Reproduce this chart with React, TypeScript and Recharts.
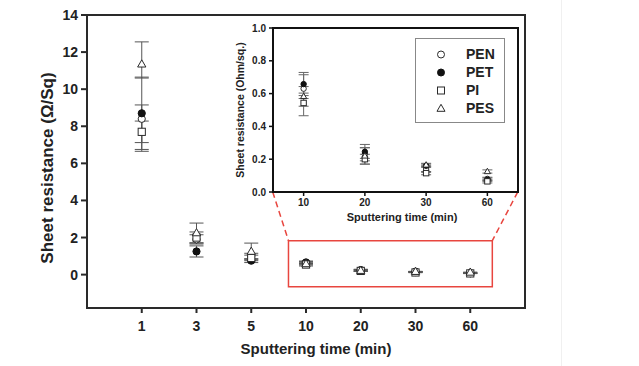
import React from 'react';
import {
  ScatterChart,
  Scatter,
  XAxis,
  YAxis,
  ErrorBar,
  ReferenceArea,
  ReferenceLine,
  Label,
  Legend,
} from 'recharts';

const mainCategories = ['1', '3', '5', '10', '20', '30', '60'];
const insetCategories = ['10', '20', '30', '60'];

const penValues = [8.4, 1.9, 1.0, 0.63, 0.23, 0.14, 0.08];
const petValues = [8.7, 1.25, 0.75, 0.658, 0.245, 0.16, 0.075];
const piValues = [7.7, 2.0, 0.9, 0.543, 0.2, 0.115, 0.065];
const pesValues = [11.35, 2.25, 1.25, 0.583, 0.22, 0.165, 0.125];

// lower / upper error extents
const penErrLow = [1.75, 0.25, 0.15, 0.06, 0.04, 0.02, 0.01];
const penErrHigh = [0.75, 0.25, 0.15, 0.085, 0.04, 0.02, 0.01];
const petErrLow = [1.95, 0.3, 0.1, 0.07, 0.04, 0.01, 0.01];
const petErrHigh = [1.95, 0.3, 0.1, 0.071, 0.045, 0.01, 0.01];
const piErrLow = [0.58, 0.3, 0.15, 0.078, 0.03, 0.01, 0.01];
const piErrHigh = [0.58, 0.3, 0.15, 0.06, 0.03, 0.01, 0.01];
const pesErrLow = [0.75, 0.53, 0.45, 0.06, 0.05, 0.01, 0.01];
const pesErrHigh = [1.2, 0.53, 0.45, 0.06, 0.05, 0.01, 0.01];

const mainYTicks = [0, 2, 4, 6, 8, 10, 12, 14];
const insetYTicks = [0, 0.2, 0.4, 0.6, 0.8, 1.0];

const FONT = '"Liberation Sans", Arial, Helvetica, sans-serif';
const INK = '#2a2a2a';
const RED = '#e8463f';

type Kind = 'circle' | 'filled' | 'square' | 'triangle';

const series: { name: string; kind: Kind; values: number[]; low: number[]; high: number[] }[] = [
  { name: 'PEN', kind: 'circle', values: penValues, low: penErrLow, high: penErrHigh },
  { name: 'PET', kind: 'filled', values: petValues, low: petErrLow, high: petErrHigh },
  { name: 'PI', kind: 'square', values: piValues, low: piErrLow, high: piErrHigh },
  { name: 'PES', kind: 'triangle', values: pesValues, low: pesErrLow, high: pesErrHigh },
];

const buildMain = (values: number[], low: number[], high: number[]) =>
  values.map((y, i) => ({ x: i + 1, y, err: [low[i], high[i]] }));
const buildInset = (values: number[], low: number[], high: number[]) =>
  values.slice(3).map((y, i) => ({ x: i + 1, y, err: [low[i + 3], high[i + 3]] }));

const drawSymbol = (kind: Kind, cx: number, cy: number, r: number) => {
  switch (kind) {
    case 'circle':
      return <circle cx={cx} cy={cy} r={r} fill="#fff" stroke={INK} strokeWidth={1} />;
    case 'filled':
      return <circle cx={cx} cy={cy} r={r} fill="#111" stroke="#111" strokeWidth={1} />;
    case 'square':
      return (
        <rect x={cx - r} y={cy - r} width={2 * r} height={2 * r} fill="#fff" stroke={INK} strokeWidth={1} />
      );
    default:
      return (
        <polygon
          points={`${cx},${cy - r * 1.2} ${cx - r * 1.15},${cy + r * 0.8} ${cx + r * 1.15},${cy + r * 0.8}`}
          fill="#fff"
          stroke={INK}
          strokeWidth={1}
        />
      );
  }
};

const makeShape = (kind: Kind, r: number) => (props: any) => {
  const { cx, cy } = props;
  if (cx == null || cy == null) return <g />;
  return drawSymbol(kind, cx, cy, r);
};

const tickStyle = (size: number) => ({
  fill: '#222',
  fontSize: size,
  fontWeight: 'bold' as const,
  fontFamily: FONT,
});

const renderLegend = () => (
  <div
    style={{
      boxSizing: 'border-box',
      width: 90,
      height: 85,
      border: '1px solid #888',
      background: '#fff',
      paddingTop: 6,
      fontFamily: FONT,
    }}
  >
    {series.map((s) => (
      <div key={s.name} style={{ position: 'relative', height: 18 }}>
        <svg width={12} height={12} style={{ position: 'absolute', left: 19, top: 3 }}>
          {drawSymbol(s.kind, 6, 6.5, 3.5)}
        </svg>
        <span
          style={{
            position: 'absolute',
            left: 50,
            top: 0,
            fontSize: 14,
            fontWeight: 'bold',
            color: '#222',
            lineHeight: '18px',
          }}
        >
          {s.name}
        </span>
      </div>
    ))}
  </div>
);

export default function App() {
  return (
    <div style={{ position: 'absolute', left: 0, top: 0, width: 639, height: 366, background: '#fff' }}>
      <div style={{ position: 'absolute', left: 561, top: 0, width: 1, height: 366, background: '#f0f0f0' }} />
      <div style={{ position: 'absolute', left: 0, top: 0 }}>
        <ScatterChart width={639} height={366} margin={{ top: 15, right: 114, bottom: 0, left: 0 }}>
          <XAxis
            type="number"
            dataKey="x"
            domain={[0, 8]}
            ticks={[1, 2, 3, 4, 5, 6, 7]}
            tickFormatter={(v: number) => mainCategories[v - 1] ?? ''}
            interval={0}
            allowDataOverflow
            height={58}
            axisLine={{ stroke: INK, strokeWidth: 2 }}
            tickLine={{ stroke: INK, strokeWidth: 2 }}
            tickSize={5}
            tickMargin={8}
            tick={tickStyle(14)}
          >
            <Label
              content={() => (
                <text
                  x={316}
                  y={348}
                  textAnchor="middle"
                  dominantBaseline="central"
                  fontFamily={FONT}
                  fontWeight="bold"
                  fontSize={15}
                  fill="#222"
                >
                  Sputtering time (min)
                </text>
              )}
            />
          </XAxis>
          <YAxis
            type="number"
            dataKey="y"
            domain={[-1.8, 14]}
            ticks={mainYTicks}
            interval={0}
            allowDataOverflow
            width={87}
            axisLine={{ stroke: INK, strokeWidth: 2 }}
            tickLine={{ stroke: INK, strokeWidth: 2 }}
            tickSize={6}
            tickMargin={3}
            tick={tickStyle(14)}
          >
            <Label
              content={() => (
                <text
                  x={47}
                  y={168}
                  transform="rotate(-90 47 168)"
                  textAnchor="middle"
                  dominantBaseline="central"
                  fontFamily={FONT}
                  fontWeight="bold"
                  fontSize={17}
                  fill="#222"
                >
                  Sheet resistance (Ω/Sq)
                </text>
              )}
            />
          </YAxis>
          <ReferenceArea x1={0} x2={8} y1={-1.8} y2={14} fill="none" fillOpacity={0} stroke={INK} strokeWidth={2} ifOverflow="visible" />
          <ReferenceArea x1={3.68} x2={7.403} y1={-0.66} y2={1.83} fill="none" fillOpacity={0} stroke={RED} strokeWidth={1.5} ifOverflow="visible" />
          <ReferenceLine
            segment={[{ x: 3.392, y: 4.453 }, { x: 3.68, y: 1.83 }]}
            stroke={RED}
            strokeWidth={1.5}
            strokeDasharray="6 4"
            ifOverflow="visible"
          />
          <ReferenceLine
            segment={[{ x: 7.866, y: 4.453 }, { x: 7.403, y: 1.83 }]}
            stroke={RED}
            strokeWidth={1.5}
            strokeDasharray="6 4"
            ifOverflow="visible"
          />
          {series.map((s) => (
            <Scatter
              key={s.name}
              name={s.name}
              data={buildMain(s.values, s.low, s.high)}
              shape={makeShape(s.kind, 3.6)}
              isAnimationActive={false}
            >
              <ErrorBar dataKey="err" direction="y" width={7} stroke="#555" strokeWidth={1} />
            </Scatter>
          ))}
        </ScatterChart>
      </div>
      <div style={{ position: 'absolute', left: 0, top: 0 }}>
        <ScatterChart width={639} height={366} margin={{ top: 28, right: 121, bottom: 0, left: 0 }}>
          <XAxis
            type="number"
            dataKey="x"
            domain={[0.5, 4.5]}
            ticks={[1, 2, 3, 4]}
            tickFormatter={(v: number) => insetCategories[v - 1] ?? ''}
            interval={0}
            allowDataOverflow
            height={174}
            axisLine={{ stroke: '#111', strokeWidth: 2 }}
            tickLine={{ stroke: '#111', strokeWidth: 1.5 }}
            tickSize={4}
            tickMargin={3}
            tick={tickStyle(10)}
          >
            <Label
              content={() => (
                <text
                  x={402}
                  y={217}
                  textAnchor="middle"
                  dominantBaseline="central"
                  fontFamily={FONT}
                  fontWeight="bold"
                  fontSize={11}
                  fill="#222"
                >
                  Sputtering time (min)
                </text>
              )}
            />
          </XAxis>
          <YAxis
            type="number"
            dataKey="y"
            domain={[0, 1]}
            ticks={insetYTicks}
            tickFormatter={(v: number) => v.toFixed(1)}
            interval={0}
            allowDataOverflow
            width={273}
            axisLine={{ stroke: '#111', strokeWidth: 2 }}
            tickLine={{ stroke: '#111', strokeWidth: 1.5 }}
            tickSize={4}
            tickMargin={3}
            tick={tickStyle(10)}
          >
            <Label
              content={() => (
                <text
                  x={240}
                  y={110}
                  transform="rotate(-90 240 110)"
                  textAnchor="middle"
                  dominantBaseline="central"
                  fontFamily={FONT}
                  fontWeight="bold"
                  fontSize={10.5}
                  fill="#222"
                >
                  Sheet resistance (Ohm/sq.)
                </text>
              )}
            />
          </YAxis>
          <ReferenceArea x1={0.5} x2={4.5} y1={0} y2={1} fill="none" fillOpacity={0} stroke="#111" strokeWidth={2} ifOverflow="visible" />
          <Legend
            layout="vertical"
            align="center"
            verticalAlign="middle"
            content={renderLegend}
            wrapperStyle={{ position: 'absolute', left: 415, top: 38, width: 90, height: 85 }}
          />
          {series.map((s) => (
            <Scatter
              key={s.name}
              name={s.name}
              data={buildInset(s.values, s.low, s.high)}
              shape={makeShape(s.kind, 2.7)}
              isAnimationActive={false}
            >
              <ErrorBar dataKey="err" direction="y" width={5} stroke="#666" strokeWidth={1} />
            </Scatter>
          ))}
        </ScatterChart>
      </div>
    </div>
  );
}
